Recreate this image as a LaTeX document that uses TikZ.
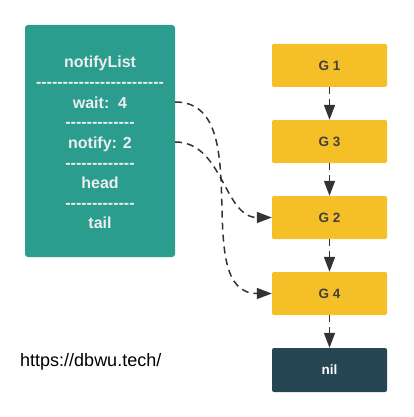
\documentclass[tikz,border=0pt]{standalone}
\usepackage{fontspec}
\setmainfont{Liberation Sans}[Ligatures=TeXOff]
\usetikzlibrary{arrows.meta}
\definecolor{listgreen}{HTML}{2A9D8F}
\definecolor{gyellow}{HTML}{F5C027}
\definecolor{nilblue}{HTML}{264653}
\definecolor{ptrgray}{HTML}{333333}

\begin{document}
\begin{tikzpicture}[x=1pt,y=-1pt,
    listtxt/.style={text=white!93!black, inner sep=0pt, text height=12pt, text depth=0pt,
      font=\fontsize{16}{18}\selectfont\bfseries},
    gbox/.style={fill=gyellow, rounded corners=2pt, minimum width=115pt, minimum height=43pt,
      text=black!75, font=\fontsize{13.5}{15}\selectfont\bfseries},
    ptr/.style={draw=ptrgray, line width=1.5pt, dash pattern=on 7pt off 5pt,
      -{Triangle[length=15pt,width=11pt]}}]
    \fill[white] (0,0) rectangle (413,417);
    \useasboundingbox (0,0) rectangle (413,417);
    % the list
    \node[fill=listgreen, rounded corners=3pt, minimum width=150pt, minimum height=232pt] (list) at (100,141) {};
    \node[listtxt] (title) at (100,62) {notifyList};
    \node[listtxt] (dash1) at (100,82) {------------------------};
    \node[listtxt] (wait) at (100,102) {wait:\ \ 4};
    \node[listtxt] (dash2) at (100,122) {-------------};
    \node[listtxt] (notify) at (100,142) {notify: 2};
    \node[listtxt] (dash3) at (100,162) {-------------};
    \node[listtxt] (head) at (100,182) {head};
    \node[listtxt] (dash4) at (100,202) {-------------};
    \node[listtxt] (tail) at (100,222) {tail};
    % the goroutines
    \node[gbox] (g1) at (329.5,65.5) {G 1};
    \node[gbox] (g3) at (329.5,141.5) {G 3};
    \node[gbox] (g2) at (329.5,217.5) {G 2};
    \node[gbox] (g4) at (329.5,293.5) {G 4};
    \node[gbox, fill=nilblue, text=white, minimum height=44pt] (nil) at (329.5,370) {nil};
    \node[anchor=west, inner sep=0pt, font=\fontsize{18}{20}\selectfont] (url) at (20,362) {https://dbwu.tech/};
    % pointers
    \draw[ptr] (g1) -- (g3);
    \draw[ptr] (g3) -- (g2);
    \draw[ptr] (g2) -- (g4);
    \draw[ptr] (g4) -- (nil);
    \draw[ptr] (wait -| list.east) to[out=0,in=180] (g4.west);
    \draw[ptr] (notify -| list.east) to[out=0,in=180] (g2.west);
  \end{tikzpicture}
\end{document}
